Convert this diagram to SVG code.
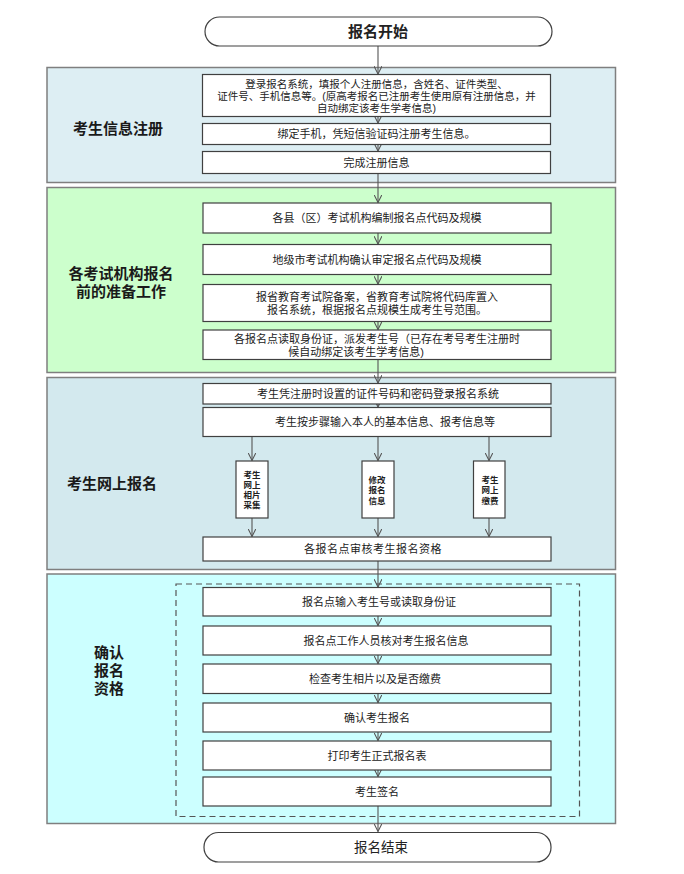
<svg xmlns="http://www.w3.org/2000/svg" width="684" height="874" viewBox="0 0 684 874">
<defs>
<marker id="arr" viewBox="0 0 10 10" refX="10" refY="5" markerWidth="8" markerHeight="8" markerUnits="userSpaceOnUse" orient="auto">
<path d="M0,0 L10,5 L0,10" fill="none" stroke="#555" stroke-width="1.3"/>
</marker>
</defs>
<style>
text{font-family:"Liberation Sans","Noto Sans CJK SC",sans-serif;fill:#222;dominant-baseline:central;text-anchor:middle}
.sec{stroke:#7f7f7f;stroke-width:1.5}
.box{fill:#fff;stroke:#404040;stroke-width:1.2}
.term{fill:#fff;stroke:#404040;stroke-width:1.2}
.t{font-size:11px}
.t2{font-size:10.5px}
.s{font-size:8.5px;font-weight:bold}
.lab{font-size:15px;font-weight:bold;fill:#1a1a1a}
.con{stroke:#555;stroke-width:1.1;fill:none;marker-end:url(#arr)}
</style>
<rect width="684" height="874" fill="#fff"/>

<g id="sections">
<rect id="sec1" class="sec" x="47" y="67.5" width="568.5" height="115" fill="#DDEEF3"/>
<rect id="sec2" class="sec" x="47" y="187.5" width="568.5" height="185" fill="#CCFFCC"/>
<rect id="sec3" class="sec" x="47" y="377.5" width="568.5" height="192" fill="#D3E9EE"/>
<rect id="sec4" class="sec" x="47" y="574" width="568.5" height="249.5" fill="#CCFFFF"/>
<rect id="dash" x="176" y="584" width="403.5" height="232.5" fill="none" stroke="#555" stroke-width="1.2" stroke-dasharray="6,4"/>
<text class="lab" x="118" y="128">考生信息注册</text>
<text class="lab" x="121" y="273">各考试机构报名</text>
<text class="lab" x="121" y="291">前的准备工作</text>
<text class="lab" x="112" y="483">考生网上报名</text>
<text class="lab" x="109" y="652">确认</text>
<text class="lab" x="109" y="670">报名</text>
<text class="lab" x="109" y="688">资格</text>
</g>

<g id="connectors">
<line class="con" x1="378" y1="46" x2="378" y2="74"/>
<line class="con" x1="378" y1="116.5" x2="378" y2="123"/>
<line class="con" x1="378" y1="144.5" x2="378" y2="151"/>
<line class="con" x1="378" y1="173.5" x2="378" y2="202.5"/>
<line class="con" x1="378" y1="233" x2="378" y2="244"/>
<line class="con" x1="378" y1="274.5" x2="378" y2="284"/>
<line class="con" x1="378" y1="321.5" x2="378" y2="329.5"/>
<line class="con" x1="378" y1="359.5" x2="378" y2="383"/>
<line class="con" x1="378" y1="404" x2="378" y2="407"/>
<line class="con" x1="252" y1="436.5" x2="252" y2="460.5"/>
<line class="con" x1="378" y1="436.5" x2="378" y2="460.5"/>
<line class="con" x1="489" y1="436.5" x2="489" y2="460.5"/>
<line class="con" x1="252" y1="518" x2="252" y2="536.5"/>
<line class="con" x1="378" y1="518" x2="378" y2="536.5"/>
<line class="con" x1="489" y1="518" x2="489" y2="536.5"/>
<line class="con" x1="378" y1="561" x2="378" y2="587"/>
<line class="con" x1="378" y1="616" x2="378" y2="625.5"/>
<line class="con" x1="378" y1="655" x2="378" y2="663.5"/>
<line class="con" x1="378" y1="693.5" x2="378" y2="702.5"/>
<line class="con" x1="378" y1="732" x2="378" y2="740.5"/>
<line class="con" x1="378" y1="770" x2="378" y2="776.5"/>
<line class="con" x1="378" y1="806" x2="378" y2="831.5"/>
</g>

<g id="start">
<rect class="term" x="205" y="17" width="347" height="29" rx="14.5"/>
<text x="378" y="31.5" style="font-size:15px;font-weight:bold">报名开始</text>
</g>

<g id="n1a"><rect class="box" x="202.5" y="74.5" width="348" height="42"/>
<text class="t2" x="376.5" y="83.5">登录报名系统，填报个人注册信息，含姓名、证件类型、</text>
<text class="t2" x="376.5" y="95.5">证件号、手机信息等。(原高考报名已注册考生使用原有注册信息，并</text>
<text class="t2" x="376.5" y="107.5">自动绑定该考生学考信息)</text></g>
<g id="n1b"><rect class="box" x="202.5" y="123.5" width="348" height="21"/>
<text class="t" x="376.5" y="134">绑定手机，凭短信验证码注册考生信息。</text></g>
<g id="n1c"><rect class="box" x="202.5" y="151.5" width="348" height="22"/>
<text class="t" x="376.5" y="162.5">完成注册信息</text></g>

<g id="n2a"><rect class="box" x="203" y="203" width="348" height="30"/>
<text class="t" x="377" y="218">各县（区）考试机构编制报名点代码及规模</text></g>
<g id="n2b"><rect class="box" x="203" y="244.5" width="348" height="30"/>
<text class="t" x="377" y="259.5">地级市考试机构确认审定报名点代码及规模</text></g>
<g id="n2c"><rect class="box" x="203" y="284.5" width="348" height="37"/>
<text class="t" x="377" y="297">报省教育考试院备案，省教育考试院将代码库置入</text>
<text class="t" x="377" y="310">报名系统，根据报名点规模生成考生号范围。</text></g>
<g id="n2d"><rect class="box" x="203" y="330" width="348" height="29.5"/>
<text class="t" x="377" y="338.5">各报名点读取身份证，派发考生号（已存在考号考生注册时</text>
<text class="t" x="356" y="351.5">候自动绑定该考生学考信息)</text></g>

<g id="n3a"><rect class="box" x="203" y="383.5" width="348" height="20.5"/>
<text class="t" x="378" y="394">考生凭注册时设置的证件号码和密码登录报名系统</text></g>
<g id="n3b"><rect class="box" x="203" y="407.5" width="348" height="29"/>
<text class="t" x="385" y="422">考生按步骤输入本人的基本信息、报考信息等</text></g>
<g id="n3c"><rect class="box" x="236" y="461" width="32" height="57"/>
<text class="s" x="252" y="475">考生</text><text class="s" x="252" y="484.5">网上</text><text class="s" x="252" y="494.5">相片</text><text class="s" x="252" y="505">采集</text></g>
<g id="n3d"><rect class="box" x="362" y="461" width="32" height="57"/>
<text class="s" x="377" y="479.5">修改</text><text class="s" x="377" y="490">报名</text><text class="s" x="377" y="500.5">信息</text></g>
<g id="n3e"><rect class="box" x="473.5" y="461" width="31.5" height="57"/>
<text class="s" x="490" y="479.5">考生</text><text class="s" x="490" y="490">网上</text><text class="s" x="490" y="500.5">缴费</text></g>
<g id="n3f"><rect class="box" x="203" y="537" width="348" height="24"/>
<text class="t" x="373" y="549" style="letter-spacing:0.5px">各报名点审核考生报名资格</text></g>

<g id="n4a"><rect class="box" x="203" y="587.5" width="348" height="28.5"/>
<text class="t" x="379" y="602">报名点输入考生号或读取身份证</text></g>
<g id="n4b"><rect class="box" x="203" y="626" width="348" height="29"/>
<text class="t" x="386" y="640.5">报名点工作人员核对考生报名信息</text></g>
<g id="n4c"><rect class="box" x="203" y="664" width="348" height="29.5"/>
<text class="t" x="375" y="679">检查考生相片以及是否缴费</text></g>
<g id="n4d"><rect class="box" x="203" y="703" width="348" height="29"/>
<text class="t" x="377" y="717.5">确认考生报名</text></g>
<g id="n4e"><rect class="box" x="203" y="741" width="348" height="29"/>
<text class="t" x="377" y="755.5">打印考生正式报名表</text></g>
<g id="n4f"><rect class="box" x="203" y="777" width="348" height="29"/>
<text class="t" x="377" y="791.5">考生签名</text></g>

<g id="end">
<rect class="term" x="204" y="832.5" width="347" height="29.5" rx="14.5"/>
<text x="381" y="847" style="font-size:13.5px">报名结束</text>
</g>
</svg>
